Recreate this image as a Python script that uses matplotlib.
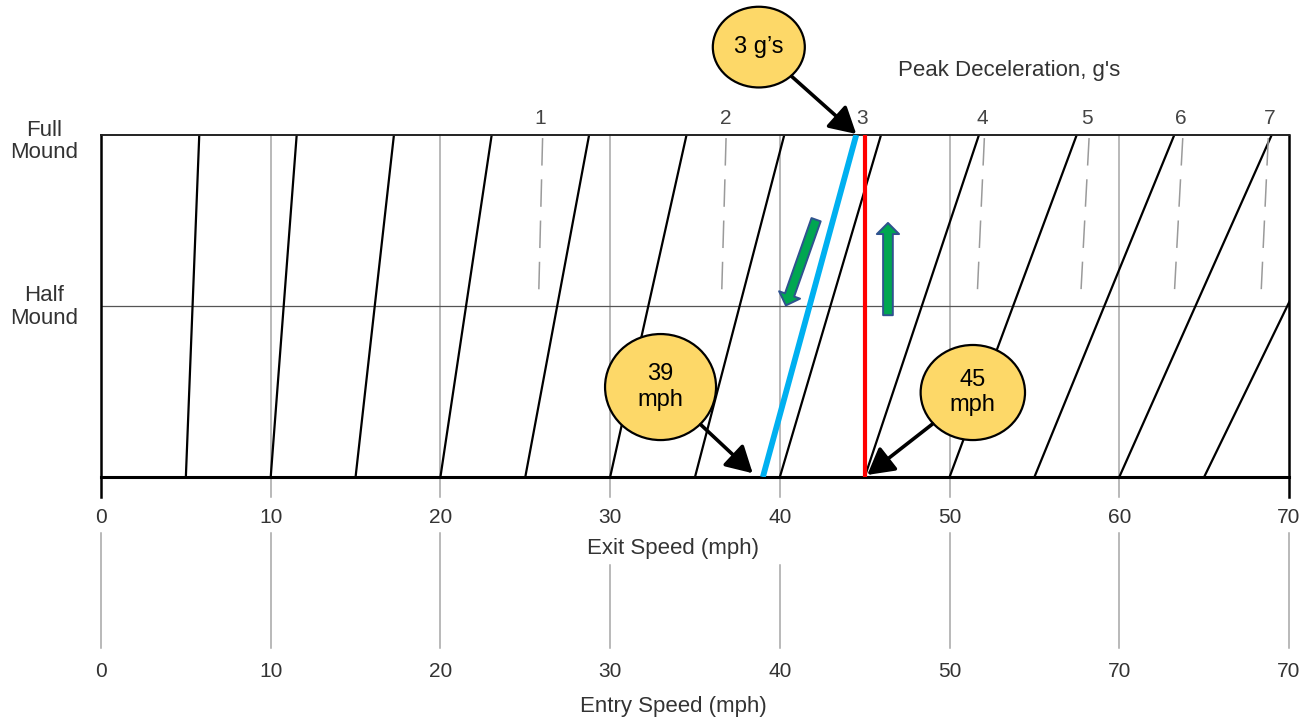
import matplotlib
matplotlib.use("Agg")
import matplotlib.pyplot as plt
from matplotlib.patches import Ellipse, FancyArrowPatch

plt.rcParams['font.family'] = ['Liberation Sans', 'DejaVu Sans']

# Exit speed (mph) at the base of each guide line and where it meets the full-mound level
exit_at_base = [5, 10, 15, 20, 25, 30, 35, 40, 45, 50, 55, 60, 65]
exit_at_full = [5.79, 11.53, 17.26, 23.02, 28.76, 34.50, 40.26, 45.96, 51.73,
                57.49, 63.24, 68.98, 74.8]

# Peak deceleration scale (g's) along the top edge
g_levels = ['1', '2', '3', '4', '5', '6', '7']
g_label_x = [25.9, 36.8, 44.86, 51.95, 58.08, 63.62, 68.88]
g_guide_top = [26.02, 36.83, None, 52.05, 58.22, 63.74, 68.78]
g_guide_bottom = [25.79, 36.57, None, 51.63, 57.73, 63.24, 68.35]

# Speed scales
exit_ticks = [0, 10, 20, 30, 40, 50, 60, 70]
exit_tick_labels = ['0', '10', '20', '30', '40', '50', '60', '70']
entry_tick_labels = ['0', '10', '20', '30', '40', '50', '70', '70']

# Worked example
example_entry = 45        # mph, entry speed
example_exit = 39         # mph, exit speed
example_full_point = 44.5  # where the 3 g line reaches full mound
example_g_text = '3 g\u2019s'

TEXT = '#333333'
GRID = '#a6a6a6'
YELLOW = '#fdd868'

fig = plt.figure(figsize=(13.12, 7.21), dpi=100)
ax = fig.add_axes([101 / 1312, 244 / 721, 1188 / 1312, 342 / 721])
ax.set_xlim(0, 70)
ax.set_ylim(0, 1)
ax.axis('off')

# Vertical speed grid lines inside the box, with short extensions below
for x in exit_ticks[1:-1]:
    ax.plot([x, x], [-0.058, 1], color=GRID, lw=1.1, clip_on=False, zorder=1)

# Frame
ax.plot([0, 0], [-0.058, 1], color='black', lw=1.8, clip_on=False, zorder=3)
ax.plot([70, 70], [-0.058, 1], color='black', lw=1.8, clip_on=False, zorder=3)
ax.plot([0, 70], [1, 1], color='#222222', lw=1.4, clip_on=False, zorder=3)
ax.plot([0, 70], [0, 0], color='black', lw=2.2, clip_on=False, zorder=3)
ax.plot([0, 70], [0.5, 0.5], color='#555555', lw=0.9, zorder=2)

# Slanted exit-speed lines
for b, t in zip(exit_at_base, exit_at_full):
    ax.plot([b, t], [0, 1], color='black', lw=1.6, zorder=2)

# Dashed peak-deceleration guides
for top, bot in zip(g_guide_top, g_guide_bottom):
    if top is None:
        continue
    ax.plot([top, bot], [0.991, 0.532], color='#9a9a9a', lw=1.1,
            dashes=(18, 9), zorder=2)

# g labels and title above the frame
for lab, x in zip(g_levels, g_label_x):
    ax.text(x, 1.047, lab, ha='center', va='center', fontsize=15,
            color='#444444', clip_on=False)
ax.text(53.48, 1.188, "Peak Deceleration, g's", ha='center', va='center',
        fontsize=16, color=TEXT, clip_on=False)

# Mound level labels
ax.text(-3.36, 0.982, 'Full\nMound', ha='center', va='center', fontsize=16,
        color=TEXT, linespacing=1.08, clip_on=False)
ax.text(-3.36, 0.497, 'Half\nMound', ha='center', va='center', fontsize=16,
        color=TEXT, linespacing=1.08, clip_on=False)

# Exit speed scale
for x, lab in zip(exit_ticks, exit_tick_labels):
    ax.text(x, -0.117, lab, ha='center', va='center', fontsize=15,
            color=TEXT, clip_on=False)
ax.text(33.73, -0.21, 'Exit Speed (mph)', ha='center', va='center',
        fontsize=16, color=TEXT, clip_on=False)

# Connector lines between the two scales
for x in exit_ticks:
    top = -0.257 if x in (30, 40) else -0.164
    ax.plot([x, x], [top, -0.5], color=GRID, lw=1.1, clip_on=False)

# Entry speed scale
for x, lab in zip(exit_ticks, entry_tick_labels):
    ax.text(x, -0.57, lab, ha='center', va='center', fontsize=15,
            color=TEXT, clip_on=False)
ax.text(33.7, -0.6725, 'Entry Speed (mph)', ha='center', va='center',
        fontsize=16, color=TEXT, clip_on=False)

# Worked example: entry speed up to full mound, then down the 3 g line
ax.plot([example_entry, example_entry], [0, 1], color='#ff0000', lw=3.0,
        solid_capstyle='butt', zorder=5)
ax.plot([example_exit, example_full_point], [0, 1], color='#00b0f0', lw=4.2,
        solid_capstyle='butt', zorder=5)

# Direction arrows
for tail, tip in [((42.19, 0.760), (40.30, 0.494)),
                  ((46.37, 0.465), (46.37, 0.751))]:
    ax.add_patch(FancyArrowPatch(
        tail, tip, arrowstyle='simple,head_length=8,head_width=16,tail_width=7',
        mutation_scale=1, facecolor='#00a651', edgecolor='#2f528f', lw=1.4,
        zorder=6, clip_on=False))

# Callouts
callouts = [
    (example_g_text, (38.76, 1.257), 5.42, 0.236, (example_full_point, 1.003)),
    (f'{example_exit}\nmph', (32.97, 0.263), 6.54, 0.31, (example_exit - 0.6, 0.011)),
    (f'{example_entry}\nmph', (51.37, 0.247), 6.15, 0.278, (example_entry + 0.15, 0.006)),
]
for text, center, w, h, target in callouts:
    ell = Ellipse(center, w, h, facecolor=YELLOW, edgecolor='black', lw=1.6,
                  zorder=7, clip_on=False)
    ax.add_patch(ell)
    ax.text(center[0], center[1], text, ha='center', va='center', fontsize=17,
            color='black', linespacing=1.2, zorder=8, clip_on=False)
    ax.add_patch(FancyArrowPatch(
        center, target, patchA=ell, shrinkA=0, shrinkB=0,
        arrowstyle='-|>,head_length=0.8,head_width=0.45', mutation_scale=20,
        color='black', lw=2.6, zorder=8, clip_on=False))

fig.savefig('out.png', dpi=100, facecolor='white')
